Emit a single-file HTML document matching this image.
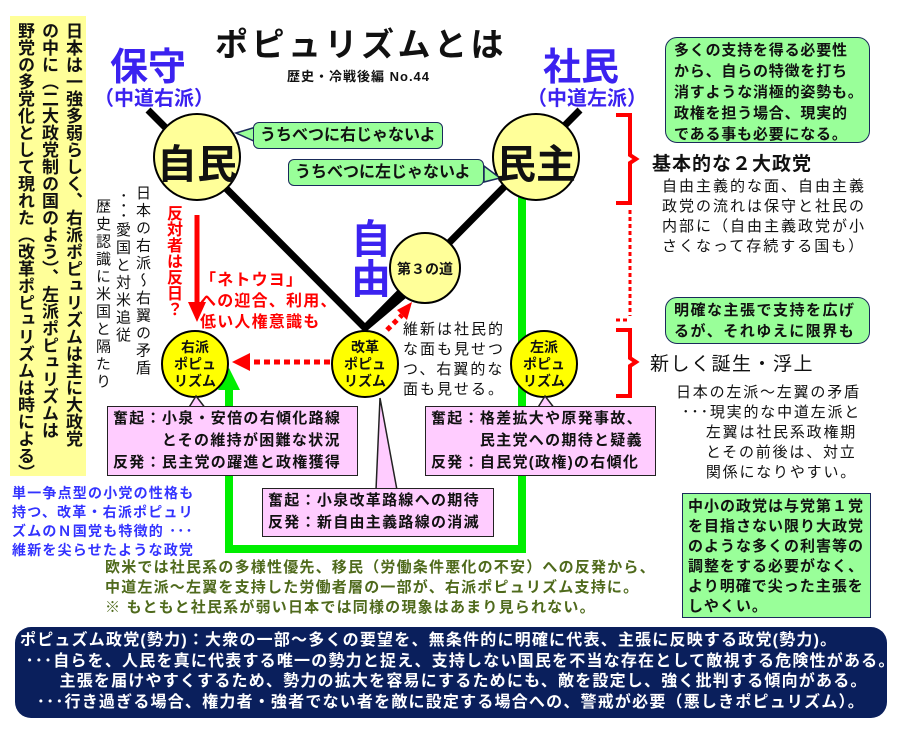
<!DOCTYPE html>
<html><head><meta charset="utf-8"><style>
*{margin:0;padding:0;box-sizing:border-box}
body{width:899px;height:732px;background:#fff;position:relative;overflow:hidden;font-family:"Liberation Sans","Noto Sans CJK JP",sans-serif;font-weight:bold;color:#111}
.a{position:absolute;white-space:nowrap}
.v{writing-mode:vertical-rl;position:absolute;white-space:nowrap}
.g{position:absolute;background:#99ff99;border:1.5px solid #1a2a5a;border-radius:12px;font-size:15px;line-height:21px;padding:2px 6px;white-space:nowrap}
.p{position:absolute;background:#ffccff;border:1.5px solid #222;font-size:15px;line-height:22px;padding:1px 5px;letter-spacing:1.3px;white-space:nowrap}
.ct{position:absolute;text-align:center;font-size:14px;line-height:17px}
</style></head><body>
<svg width="899" height="732" style="position:absolute;left:0;top:0">
<polyline points="148,110 365,328 580,110" fill="none" stroke="#000" stroke-width="7"/>
<line x1="365" y1="328" x2="410" y2="290" stroke="#000" stroke-width="7"/>
<polyline points="522,195 522,549 229,549 229,385" fill="none" stroke="#00ee00" stroke-width="8"/>
<polygon points="229,368 218,390 240,390" fill="#00ee00"/>
<line x1="197" y1="215" x2="197" y2="305" stroke="#ff0000" stroke-width="5"/>
<polygon points="197,322 188,302 206,302" fill="#ff0000"/>
<line x1="330" y1="362" x2="248" y2="362" stroke="#ff0000" stroke-width="5" stroke-dasharray="6,4"/>
<polygon points="232,362 250,353 250,371" fill="#ff0000"/>
<line x1="387" y1="330" x2="402" y2="315" stroke="#ff0000" stroke-width="5" stroke-dasharray="5,4"/>
<polygon points="412,302 397,310 407,320" fill="#ff0000"/>
<circle cx="197" cy="157" r="43" fill="#ffff99" stroke="#000" stroke-width="2"/>
<circle cx="536" cy="157" r="43" fill="#ffff99" stroke="#000" stroke-width="2"/>
<circle cx="425" cy="268" r="35" fill="#ffff99" stroke="#000" stroke-width="2"/>
<circle cx="195" cy="364" r="33" fill="#ffff00" stroke="#000" stroke-width="2"/>
<circle cx="365" cy="364" r="33" fill="#ffff00" stroke="#000" stroke-width="2"/>
<circle cx="544" cy="364" r="33" fill="#ffff00" stroke="#000" stroke-width="2"/>
<path d="M616,115 H630 V155 L636,159 L630,163 V203 H616" fill="none" stroke="#ff0000" stroke-width="4"/>
<line x1="630" y1="210" x2="630" y2="316" stroke="#ff0000" stroke-width="3" stroke-dasharray="4,3"/>
<path d="M616,320 H628" stroke="#ff0000" stroke-width="3" stroke-dasharray="4,3"/>
<path d="M616,330 H630 V358 L636,362 L630,366 V396 H616" fill="none" stroke="#ff0000" stroke-width="4"/>
<polygon points="236,133 256,127 256,142" fill="#99ff99" stroke="#1a2a5a" stroke-width="1.5"/>
<polygon points="500,178 484,166 484,182" fill="#99ff99" stroke="#1a2a5a" stroke-width="1.5"/>
<polygon points="196,396 188,409 206,409" fill="#ffccff" stroke="#222" stroke-width="1.5"/>
<polygon points="380,398 376,490 397,490" fill="#ffccff" stroke="#222" stroke-width="1.5"/>
<polygon points="545,396 537,409 555,409" fill="#ffccff" stroke="#222" stroke-width="1.5"/>
</svg>

<div style="position:absolute;left:10px;top:16px;width:76px;height:460px;background:#ffff99"></div>
<div class="v" style="left:12px;top:22px;font-size:17px;line-height:24px;height:450px">日本は一強多弱らしく、右派ポピュリズムは主に大政党<br>の中に（二大政党制の国のよう）、左派ポピュリズムは<br>野党の多党化として現れた（改革ポピュリズムは時による）</div>

<div class="a" style="left:215px;top:18px;font-size:33px;letter-spacing:3.5px">ポピュリズムとは</div>
<div class="a" style="left:287px;top:66px;font-size:13px;letter-spacing:1px">歴史・冷戦後編 No.44</div>
<div class="a" style="left:110px;top:36px;font-size:38px;color:#3b22f0">保守</div>
<div class="a" style="left:94px;top:82px;font-size:20px;color:#3b22f0">（中道右派）</div>
<div class="a" style="left:543px;top:36px;font-size:38px;color:#3b22f0">社民</div>
<div class="a" style="left:527px;top:82px;font-size:20px;color:#3b22f0">（中道左派）</div>
<div class="v" style="left:345px;top:218px;font-size:40px;color:#3b22f0;line-height:44px">自由</div>

<div class="a" style="left:155px;top:132px;font-size:40px;width:84px;text-align:center">自民</div>
<div class="a" style="left:494px;top:132px;font-size:40px;width:84px;text-align:center">民主</div>
<div class="a" style="left:392px;top:259px;font-size:14px;width:66px;text-align:center">第３の道</div>

<div class="g" style="left:253px;top:122px;width:190px;height:27px;border-radius:6px;font-size:16px;line-height:22px">うちべつに右じゃないよ</div>
<div class="g" style="left:288px;top:159px;width:196px;height:27px;border-radius:6px;font-size:16px;line-height:22px">うちべつに左じゃないよ</div>

<div class="v" style="left:160px;top:205px;font-size:16px;color:#f00">反対者は反日？</div>
<div class="a" style="left:200px;top:270px;font-size:16px;line-height:21px;color:#f00;letter-spacing:1.2px">「ネトウヨ」<br>への迎合、利用、<br>低い人権意識も</div>
<div class="v" style="left:92px;top:185px;font-size:15px;line-height:20px;font-weight:normal;letter-spacing:2.5px">日本の右派～右翼の矛盾<br>&nbsp;･･･愛国と対米追従<br>&nbsp;&nbsp;歴史認識に米国と隔たり</div>

<div class="ct" style="left:165px;top:339px;width:60px">右派<br>ポピュ<br>リズム</div>
<div class="ct" style="left:335px;top:339px;width:60px">改革<br>ポピュ<br>リズム</div>
<div class="ct" style="left:514px;top:339px;width:60px">左派<br>ポピュ<br>リズム</div>

<div class="a" style="left:403px;top:320px;font-size:15px;line-height:20px;font-weight:normal;letter-spacing:2px">維新は社民的<br>な面も見せつ<br>つ、右翼的な<br>面も見せる。</div>

<div class="p" style="left:107px;top:406px;width:251px;height:70px">奮起：小泉・安倍の右傾化路線<br>　　　とその維持が困難な状況<br>反発：民主党の躍進と政権獲得</div>
<div class="p" style="left:262px;top:488px;width:232px;height:49px">奮起：小泉改革路線への期待<br>反発：新自由主義路線の消滅</div>
<div class="p" style="left:425px;top:406px;width:231px;height:70px">奮起：格差拡大や原発事故、<br>　　　民主党への期待と疑義<br>反発：自民党(政権)の右傾化</div>

<div class="g" style="left:665px;top:37px;width:205px;height:106px;padding:2px 8px;letter-spacing:0.8px">多くの支持を得る必要性<br>から、自らの特徴を打ち<br>消すような消極的姿勢も。<br>政権を担う場合、現実的<br>である事も必要になる。</div>
<div class="a" style="left:652px;top:149px;font-size:19px;letter-spacing:1px">基本的な２大政党</div>
<div class="a" style="left:662px;top:177px;font-size:15px;line-height:20px;font-weight:normal;letter-spacing:2px">自由主義的な面、自由主義<br>政党の流れは保守と社民の<br>内部に（自由主義政党が小<br>さくなって存続する国も）</div>
<div class="g" style="left:665px;top:297px;width:205px;height:47px;padding:2px 8px;letter-spacing:1.5px">明確な主張で支持を広げ<br>るが、それゆえに限界も</div>
<div class="a" style="left:650px;top:349px;font-size:19px;font-weight:normal;letter-spacing:1.5px">新しく誕生・浮上</div>
<div class="a" style="left:676px;top:383px;font-size:15px;line-height:20px;font-weight:normal;letter-spacing:1.8px">日本の左派～左翼の矛盾<br>&nbsp;･･･現実的な中道左派と<br>&nbsp;&nbsp;&nbsp;&nbsp;&nbsp;左翼は社民系政権期<br>&nbsp;&nbsp;&nbsp;&nbsp;&nbsp;とその前後は、対立<br>&nbsp;&nbsp;&nbsp;&nbsp;&nbsp;関係になりやすい。</div>
<div class="g" style="left:682px;top:493px;width:189px;height:125px;border-radius:0;padding:3px 5px;line-height:20px;letter-spacing:1px">中小の政党は与党第１党<br>を目指さない限り大政党<br>のような多くの利害等の<br>調整をする必要がなく、<br>より明確で尖った主張を<br>しやくい。</div>

<div class="a" style="left:12px;top:484px;font-size:14px;line-height:19px;color:#3333ff;letter-spacing:1.2px">単一争点型の小党の性格も<br>持つ、改革・右派ポピュリ<br>ズムのＮ国党も特徴的 ･･･<br>維新を尖らせたような政党</div>
<div class="a" style="left:105px;top:558px;font-size:15px;line-height:20px;color:#4f6a1c;letter-spacing:1.2px">欧米では社民系の多様性優先、移民（労働条件悪化の不安）への反発から、<br>中道左派～左翼を支持した労働者層の一部が、右派ポピュリズム支持に。<br>※ もともと社民系が弱い日本では同様の現象はあまり見られない。</div>

<div style="position:absolute;left:15px;top:627px;width:872px;height:91px;background:#0a1f5c;border-radius:16px"></div>
<div class="a" style="left:20px;top:631px;font-size:16px;line-height:20.5px;color:#fff;letter-spacing:1.2px">ポピュズム政党(勢力)：大衆の一部～多くの要望を、無条件的に明確に代表、主張に反映する政党(勢力)。<br>&nbsp;･･･自らを、人民を真に代表する唯一の勢力と捉え、支持しない国民を不当な存在として敵視する危険性がある。<br>&nbsp;&nbsp;&nbsp;&nbsp;&nbsp;&nbsp;&nbsp;主張を届けやすくするため、勢力の拡大を容易にするためにも、敵を設定し、強く批判する傾向がある。<br>&nbsp;&nbsp;&nbsp;･･･行き過ぎる場合、権力者・強者でない者を敵に設定する場合への、警戒が必要（悪しきポピュリズム）。</div>
</body></html>
